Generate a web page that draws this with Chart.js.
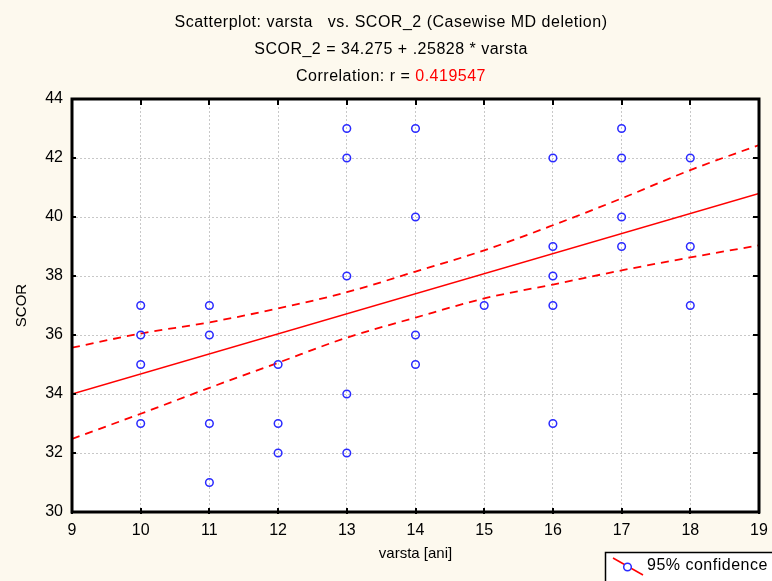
<!DOCTYPE html>
<html>
<head>
<meta charset="utf-8">
<script src="https://cdn.jsdelivr.net/npm/chart.js@4.4.1/dist/chart.umd.min.js"></script>
<style>
  body { margin: 0; background: #fdf9ee; }
  #wrap { width: 772px; height: 581px; position: relative; }
</style>
</head>
<body>
<div id="wrap"><canvas id="scatter"></canvas></div>
<script>
// observations (varsta, SCOR)
const varsta = [10, 10, 10, 10, 11, 11, 11, 11, 12, 12, 12, 13, 13, 13, 13, 13, 14, 14, 14, 14, 15, 16, 16, 16, 16, 16, 17, 17, 17, 17, 18, 18, 18];
const scor   = [37, 36, 35, 33, 37, 36, 33, 31, 35, 33, 32, 43, 42, 38, 34, 32, 43, 40, 36, 35, 37, 42, 39, 38, 37, 33, 43, 42, 40, 39, 42, 39, 37];

// fitted line
const fitX = [9, 19];
const fitY = [34.0, 40.8];

// 95% confidence bands
const bandX = [9, 10, 11, 12, 13, 14, 15, 16, 17, 18, 19];
const upperBand = [35.57, 36.05, 36.43, 36.9, 37.45, 38.15, 38.87, 39.72, 40.63, 41.59, 42.44];
const lowerBand = [32.48, 33.33, 34.21, 35.06, 35.91, 36.59, 37.24, 37.71, 38.19, 38.63, 39.04];

const xTicks = [9, 10, 11, 12, 13, 14, 15, 16, 17, 18, 19];
const yTicks = [30, 32, 34, 36, 38, 40, 42, 44];

const titleLines = ["Scatterplot: varsta   vs. SCOR_2 (Casewise MD deletion)", "SCOR_2 = 34.275 + .25828 * varsta"];
const corrLabel = "Correlation: r = ";
const corrValue = "0.419547";
const xTitle = "varsta [ani]";
const yTitle = "SCOR";
const legendLabel = "95% confidence";

const FONT = "Arial, 'Liberation Sans', sans-serif";
const pts = (xs, ys) => xs.map((x, i) => ({x: x, y: ys[i]}));

const decor = {
    id: 'decor',
    beforeDraw(chart) {
        const {ctx, chartArea: a} = chart;
        ctx.save();
        ctx.fillStyle = '#fdf9ee';
        ctx.fillRect(0, 0, chart.width, chart.height);
        ctx.fillStyle = '#ffffff';
        ctx.fillRect(a.left, a.top, a.right - a.left, a.bottom - a.top);
        ctx.restore();
    },
    afterDraw(chart) {
        const {ctx, chartArea: a, scales} = chart;
        ctx.save();
        // frame + inward ticks
        ctx.strokeStyle = '#000';
        ctx.lineWidth = 3;
        ctx.strokeRect(a.left, a.top, a.right - a.left, a.bottom - a.top);
        ctx.lineWidth = 2;
        ctx.beginPath();
        xTicks.forEach(v => {
            const px = Math.round(scales.x.getPixelForValue(v));
            ctx.moveTo(px, a.top); ctx.lineTo(px, a.top + 6);
            ctx.moveTo(px, a.bottom + 2); ctx.lineTo(px, a.bottom - 4);
        });
        yTicks.forEach(v => {
            const py = Math.round(scales.y.getPixelForValue(v));
            ctx.moveTo(a.right, py); ctx.lineTo(a.right - 6, py);
            ctx.moveTo(a.left, py); ctx.lineTo(a.left + 4, py);
        });
        ctx.stroke();

        // titles
        ctx.fillStyle = '#000';
        ctx.font = '16px ' + FONT;
        ctx.letterSpacing = '0.5px';
        ctx.textAlign = 'center';
        ctx.textBaseline = 'middle';
        const cx = 391;
        ctx.fillText(titleLines[0], cx, 23);
        ctx.fillText(titleLines[1], cx, 50);
        const w1 = ctx.measureText(corrLabel).width;
        const w2 = ctx.measureText(corrValue).width;
        ctx.textAlign = 'left';
        const sx = cx - (w1 + w2) / 2;
        ctx.fillText(corrLabel, sx, 77);
        ctx.fillStyle = '#ff0000';
        ctx.fillText(corrValue, sx + w1, 77);
        ctx.letterSpacing = '0px';

        // axis titles
        ctx.fillStyle = '#000';
        ctx.font = '15px ' + FONT;
        ctx.textAlign = 'center';
        ctx.fillText(xTitle, (a.left + a.right) / 2, 554);
        ctx.save();
        ctx.translate(22, (a.top + a.bottom) / 2);
        ctx.rotate(-Math.PI / 2);
        ctx.fillText(yTitle, 0, 0);
        ctx.restore();

        // legend box
        ctx.fillStyle = '#ffffff';
        ctx.fillRect(605, 552, 172, 32);
        ctx.lineWidth = 1.5;
        ctx.strokeStyle = '#000';
        ctx.strokeRect(605.5, 552.5, 172, 32);
        ctx.strokeStyle = '#ff0000';
        ctx.lineWidth = 1.5;
        ctx.beginPath();
        ctx.moveTo(613, 558); ctx.lineTo(643, 575);
        ctx.stroke();
        ctx.fillStyle = '#ffffff';
        ctx.strokeStyle = '#2a2aff';
        ctx.beginPath();
        ctx.arc(627.5, 567, 3.8, 0, Math.PI * 2);
        ctx.fill(); ctx.stroke();
        ctx.fillStyle = '#000';
        ctx.font = '16px ' + FONT;
        ctx.letterSpacing = '0.5px';
        ctx.textAlign = 'left';
        ctx.fillText(legendLabel, 647, 566);
        ctx.restore();
    }
};

const gridStyle = {
    color: '#c8c8c8',
    lineWidth: 1,
    drawTicks: false
};

new Chart(document.getElementById('scatter'), {
    type: 'scatter',
    data: {
        datasets: [
            {
                label: 'fit',
                data: pts(fitX, fitY),
                showLine: true,
                borderColor: '#ff0000',
                borderWidth: 1.6,
                pointRadius: 0,
                order: 3
            },
            {
                label: 'upper',
                data: pts(bandX, upperBand),
                showLine: true,
                borderColor: '#ff0000',
                borderWidth: 1.8,
                borderDash: [8, 6],
                cubicInterpolationMode: 'monotone',
                pointRadius: 0,
                order: 2
            },
            {
                label: 'lower',
                data: pts(bandX, lowerBand),
                showLine: true,
                borderColor: '#ff0000',
                borderWidth: 1.8,
                borderDash: [8, 6],
                cubicInterpolationMode: 'monotone',
                pointRadius: 0,
                order: 2
            },
            {
                label: 'obs',
                data: pts(varsta, scor),
                pointStyle: 'circle',
                pointRadius: 3.8,
                pointBorderWidth: 1.5,
                borderColor: '#2a2aff',
                backgroundColor: 'rgba(255,255,255,0)',
                order: 1
            }
        ]
    },
    options: {
        responsive: true,
        maintainAspectRatio: false,
        animation: false,
        layout: { padding: { top: 99, right: 13, left: 0, bottom: 0 } },
        plugins: { legend: { display: false }, tooltip: { enabled: false }, title: { display: false } },
        scales: {
            x: {
                type: 'linear',
                min: 9, max: 19,
                afterFit(scale) { scale.height = 69; scale.paddingRight = 0; scale.paddingLeft = 0; },
                afterBuildTicks(scale) { scale.ticks = xTicks.map(v => ({value: v})); },
                border: { display: false, dash: [2, 2] },
                grid: gridStyle,
                ticks: { color: '#000', font: { size: 16, family: FONT }, padding: 9, maxRotation: 0 }
            },
            y: {
                type: 'linear',
                min: 30, max: 44,
                afterFit(scale) { scale.width = 72; scale.paddingTop = 0; scale.paddingBottom = 0; },
                afterBuildTicks(scale) { scale.ticks = yTicks.map(v => ({value: v})); },
                border: { display: false, dash: [2, 2] },
                grid: gridStyle,
                ticks: { color: '#000', font: { size: 16, family: FONT }, padding: 9 }
            }
        }
    },
    plugins: [decor]
});
</script>
</body>
</html>
